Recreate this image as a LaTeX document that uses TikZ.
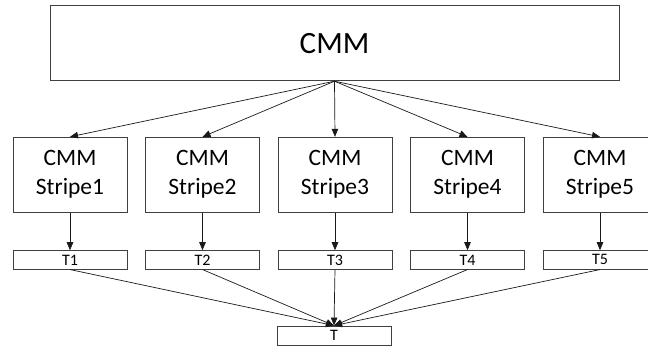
\documentclass[tikz,border=0pt]{standalone}
\usepackage{fontspec}
\setmainfont{Carlito}
\usetikzlibrary{arrows.meta}

\begin{document}
\begin{tikzpicture}[x=1pt, y=-1pt,
    box/.style={draw=black!75, line width=0.8pt, inner sep=0pt, align=center},
    link/.style={-{Triangle[length=8pt,width=6.5pt]}, line width=0.7pt, black!90}]
    % Canvas
    \useasboundingbox (0,0) rectangle (648,347);

    % Row parameters
    \pgfmathsetmacro{\colstep}{132.5}
    \pgfmathsetmacro{\colstart}{70}

    % Top box
    \node[box, minimum width=569, minimum height=75,
          font=\fontsize{31}{36}\selectfont] (cmm) at (334.5,43.3) {CMM};

    % Stripes and their T boxes
    \foreach \i in {1,...,5} {
        \pgfmathsetmacro{\xpos}{\colstart+\colstep*(\i-1)}
        \node[box, minimum width=114, minimum height=75,
              font=\fontsize{23.5}{29}\selectfont] (stripe\i) at (\xpos,174.7) {CMM\\Stripe\i};
        \node[box, minimum width=114, minimum height=18.5,
              font=\fontsize{16}{17}\selectfont] (t\i) at (\xpos,259.9) {T\i};
    }

    % Bottom box
    \node[box, minimum width=114, minimum height=19,
          font=\fontsize{16}{17}\selectfont] (t) at (334,335.5) {T};

    % Connectors
    \foreach \i in {1,...,5} {
        \draw[link] (cmm.south) -- (stripe\i.north);
        \draw[link] (stripe\i.south) -- (t\i.north);
        \draw[link] (t\i.south) -- (t.north);
    }
\end{tikzpicture}
\end{document}
